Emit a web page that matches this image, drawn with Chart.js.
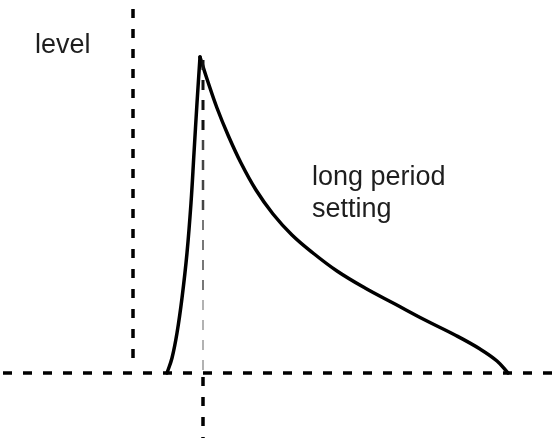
<!DOCTYPE html>
<html lang="en">
<head>
    <meta charset="UTF-8">
    <title>Level - long period setting</title>
    <script src="https://cdn.jsdelivr.net/npm/chart.js"></script>
    <style>
        html, body {
            margin: 0;
            padding: 0;
            background: #ffffff;
        }
        canvas {
            display: block;
        }
    </style>
</head>
<body>
    <canvas id="chart" width="559" height="438"></canvas>
    <script>
        // rising edge (time, level)
        const riseTime  = [34, 39, 44, 49, 54, 58, 61, 64, 67];
        const riseLevel = [0, 15, 40, 75, 120, 170, 220, 270, 316];

        // slow decay, long period setting
        const decayTime  = [67, 75, 84, 95, 108, 123, 140, 159, 180, 204, 232, 262, 292, 322, 347, 364, 375];
        const decayLevel = [316, 291, 265, 238, 210, 183, 159, 138, 120, 102, 85, 69, 53, 38, 24, 12, 0];

        // axis range
        const timeRange  = [-133, 426];
        const levelRange = [-65, 373];

        // reference lines
        const levelAxis = [[0, 364], [0, 15]];
        const timeAxis  = [[-130, 0], [426, 0]];
        const peakDrop  = [[70, 313], [70, 233], [70, 153], [70, 73], [70, 0]];
        const peakTail  = [[70, -4], [70, -65]];

        // fading style of the line under the peak (top to bottom)
        const dropColors = ['#111', '#444', '#777', '#999'];
        const dropWidths = [3, 2.5, 2, 1.5];

        // text labels: [text, time, level]
        const labels = [
            ['level', -98, 320],
            ['long period', 179, 188],
            ['setting', 179, 156]
        ];

        function toPoints(xs, ys) {
            return xs.map((x, i) => ({ x: x, y: ys[i] }));
        }
        function pairs(list) {
            return list.map(p => ({ x: p[0], y: p[1] }));
        }

        function dashed(data, width, color, dash) {
            return {
                data: pairs(data),
                showLine: true,
                borderColor: color,
                borderWidth: width,
                borderDash: dash,
                pointRadius: 0,
                fill: false
            };
        }

        function curve(data) {
            return {
                data: data,
                showLine: true,
                borderColor: '#000',
                borderWidth: 3.5,
                borderCapStyle: 'round',
                borderJoinStyle: 'round',
                tension: 0.4,
                pointRadius: 0,
                fill: false
            };
        }

        const drop = dashed(peakDrop, 2, '#555', [10, 10]);
        drop.segment = {
            borderColor: ctx => dropColors[ctx.p0DataIndex],
            borderWidth: ctx => dropWidths[ctx.p0DataIndex]
        };

        // draws the text labels at data positions
        const textPlugin = {
            id: 'textLabels',
            afterDatasetsDraw(chart) {
                const ctx = chart.ctx;
                const xs = chart.scales.x;
                const ys = chart.scales.y;
                ctx.save();
                ctx.fillStyle = '#1e1e1e';
                ctx.font = '27px "Liberation Sans", Arial, sans-serif';
                ctx.textBaseline = 'alphabetic';
                labels.forEach(l => {
                    ctx.fillText(l[0], xs.getPixelForValue(l[1]), ys.getPixelForValue(l[2]));
                });
                ctx.restore();
            }
        };

        new Chart(document.getElementById('chart'), {
            type: 'scatter',
            data: {
                datasets: [
                    dashed(levelAxis, 3.5, '#000', [9, 11]),
                    dashed(timeAxis, 3.5, '#000', [9, 11]),
                    drop,
                    dashed(peakTail, 3.5, '#000', [9, 11]),
                    curve(toPoints(riseTime, riseLevel)),
                    curve(toPoints(decayTime, decayLevel))
                ]
            },
            options: {
                responsive: false,
                animation: false,
                devicePixelRatio: 1,
                layout: { padding: 0 },
                plugins: {
                    legend: { display: false },
                    tooltip: { enabled: false }
                },
                scales: {
                    x: { type: 'linear', min: timeRange[0], max: timeRange[1], display: false },
                    y: { type: 'linear', min: levelRange[0], max: levelRange[1], display: false }
                }
            },
            plugins: [textPlugin]
        });
    </script>
</body>
</html>
